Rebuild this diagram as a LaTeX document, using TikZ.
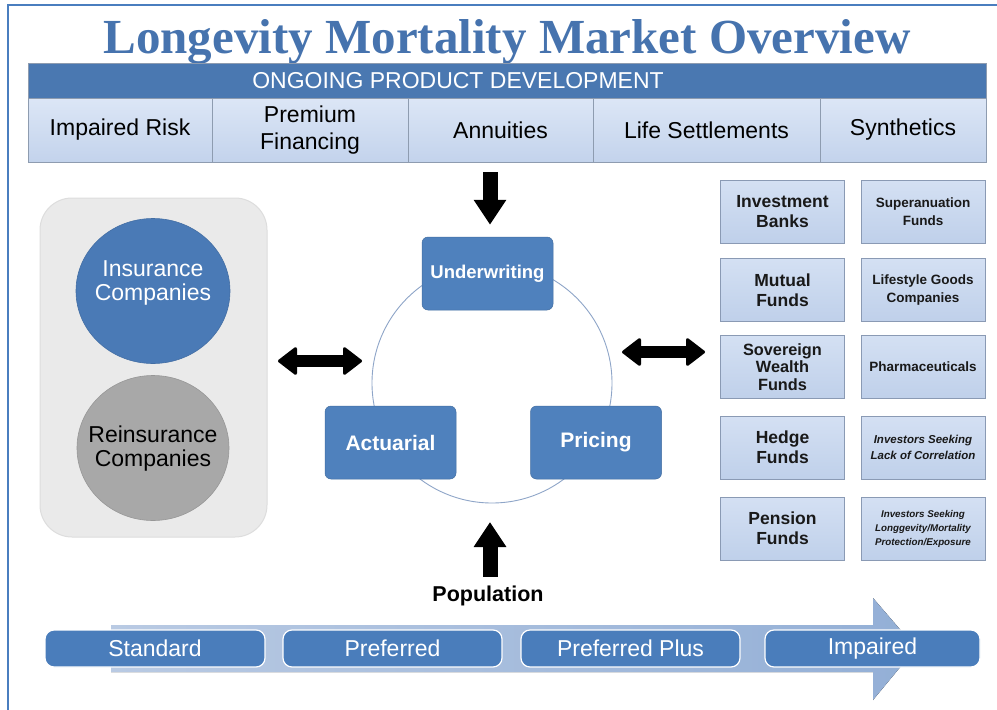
\documentclass[tikz,border=0pt]{standalone}
\usepackage{fontspec}
\setmainfont{Liberation Sans}
\newfontfamily\titlefont{Liberation Serif}
\usetikzlibrary{arrows.meta,shapes.geometric}
\newcommand\setfs[2]{\fontsize{#1}{#2}\selectfont}
\definecolor{frameblue}{HTML}{4A7EBF}
\definecolor{titleblue}{HTML}{4673AE}
\definecolor{bandblue}{HTML}{4A78B1}
\definecolor{celltop}{HTML}{DCE6F6}
\definecolor{cellbot}{HTML}{C3D3EC}
\definecolor{cellline}{HTML}{8E9CB0}
\definecolor{boxblue}{HTML}{4F81BD}
\definecolor{panelgray}{HTML}{EAEAEA}
\definecolor{panelline}{HTML}{DDDDDD}
\definecolor{insblue}{HTML}{4A7AB6}
\definecolor{reingray}{HTML}{A8A8A8}
\definecolor{shaftblue}{HTML}{93AFD6}
\definecolor{shaftlight}{HTML}{B9CAE3}
\definecolor{cycleline}{HTML}{8EA5C8}
\definecolor{rtop}{HTML}{D4E0F3}
\definecolor{rbot}{HTML}{BFD0EA}
\definecolor{rline}{HTML}{8A9AB4}
\definecolor{stepblue}{HTML}{4A7DBB}
\begin{document}
\begin{tikzpicture}[x=1pt,y=-1pt,
  every node/.style={inner sep=0pt},
  cell/.style={draw=cellline, line width=0.8pt, top color=celltop, bottom color=cellbot,
    minimum height=64pt, align=center, font=\setfs{23}{27}, text=black},
  cyclebox/.style={fill=boxblue, draw=boxblue!85!black, line width=0.5pt, rounded corners=6pt,
    minimum width=131pt, minimum height=73pt, text=white, font=\bfseries\setfs{21}{25}},
  rbox/.style={draw=rline, line width=0.8pt, top color=rtop, bottom color=rbot,
    minimum width=124pt, minimum height=63pt, align=center, text=black!90},
  lcol/.style={rbox, font=\bfseries\setfs{17.5}{20}},
  rcol/.style={rbox, font=\bfseries\setfs{13.5}{18}},
  stepbox/.style={fill=stepblue, draw=white, line width=1.2pt, rounded corners=9pt,
    minimum height=37pt, text=white, font=\setfs{23}{27}},
  dbl/.style={line width=12pt,
    {Triangle[length=20pt,width=30pt,round,line width=3pt]}-{Triangle[length=20pt,width=30pt,round,line width=3pt]}},
  blk/.style={line width=15pt, -{Triangle[length=25pt,width=31pt]}}
]
\useasboundingbox (0,0) rectangle (997,710);
\fill[white] (0,0) rectangle (997,710);

% frame
\coordinate (fr1) at (8,710);
\coordinate (fr2) at (8,5);
\coordinate (fr3) at (997,5);
\draw[frameblue, line width=2.5pt] (fr1) -- (fr2) -- (fr3);

% title
\node[font=\titlefont\bfseries\setfs{49}{56}, text=titleblue, anchor=base] (title) at (507,53)
  {Longevity Mortality Market Overview};

% header band
\node[fill=bandblue, draw=cellline, line width=0.6pt, minimum width=958pt, minimum height=35pt] (band) at (507,80.5) {};
\node[text=white, font=\setfs{23}{27}] (bandtxt) at (458,81) {ONGOING PRODUCT DEVELOPMENT};

% product cells
\node[cell, minimum width=184pt] (c1) at (120,130) {Impaired Risk};
\node[cell, minimum width=196pt] (c2) at (310,130) {Premium\\Financing};
\node[cell, minimum width=185pt] (c3) at (500.5,130) {Annuities};
\node[cell, minimum width=227pt] (c4) at (706.5,130) {Life Settlements};
\node[cell, minimum width=166pt] (c5) at (903,130) {Synthetics};

% left panel
\node[fill=panelgray, draw=panelline, line width=1pt, rounded corners=32pt,
  minimum width=227pt, minimum height=339pt] (panel) at (153.5,367.5) {};
\node[ellipse, fill=insblue, draw=insblue!90!black, line width=0.6pt,
  minimum width=154pt, minimum height=145pt] (ins) at (153,291) {};
\node[ellipse, fill=reingray, draw=reingray!90!black, line width=0.6pt,
  minimum width=152pt, minimum height=145pt] (rein) at (153,448) {};
\node[align=center, text=white, font=\setfs{23}{24}] (instxt) at (153,283) {Insurance\\Companies};
\node[align=center, text=black, font=\setfs{23}{24}] (reintxt) at (153,449) {Reinsurance\\Companies};

% cycle
\draw[cycleline, line width=0.9pt] (492,383) circle (120);
\node[cyclebox, font=\bfseries\setfs{18.5}{22}] (uw) at (487.5,273.5) {Underwriting};
\node[cyclebox] (act) at (390.5,442.5) {Actuarial};
\node[cyclebox] (pri) at (596,442.5) {Pricing};

% vertical arrows
\coordinate (dtop) at (490,172);
\draw[blk] (dtop) -- ([yshift=12pt]uw.north -| dtop);
\node[font=\bfseries\setfs{21.5}{24}, text=black] (pop) at (488,596) {Population};
\coordinate (utip) at (490,522);
\draw[blk] ([yshift=9pt]pop.north -| utip) -- (utip);

% double arrows
\coordinate (la) at (278,361);
\coordinate (lb) at (362,361);
\draw[dbl] (la) -- (lb);
\coordinate (ra) at (622,352);
\coordinate (rb) at (705,352);
\draw[dbl] (ra) -- (rb);

% right grid
\node[lcol] (r11) at (782.5,212) {Investment\\Banks};
\node[rcol] (r12) at (923,212) {Superanuation\\Funds};
\node[lcol] (r21) at (782.5,290) {Mutual\\Funds};
\node[rcol] (r22) at (923,290) {Lifestyle Goods\\Companies};
\node[lcol, font=\bfseries\setfs{16.3}{17.5}] (r31) at (782.5,367) {Sovereign\\Wealth\\Funds};
\node[rcol] (r32) at (923,367) {Pharmaceuticals};
\node[lcol] (r41) at (782.5,447.5) {Hedge\\Funds};
\node[rcol, font=\bfseries\itshape\setfs{11.5}{16}] (r42) at (923,447.5) {Investors Seeking\\Lack of Correlation};
\node[lcol] (r51) at (782.5,528.5) {Pension\\Funds};
\node[rcol, font=\bfseries\itshape\setfs{9.8}{14}] (r52) at (923,528.5) {Investors Seeking\\Longgevity/Mortality\\Protection/Exposure};

% bottom progression arrow
\fill[left color=shaftlight, right color=shaftblue]
  (111,625) -- (873,625) -- (873,598) -- (916,648) -- (873,700) -- (873,672) -- (111,672) -- cycle;
\node[stepbox, minimum width=220pt] (s1) at (155,648.5) {Standard};
\node[stepbox, minimum width=219pt] (s2) at (392.5,648.5) {Preferred};
\node[stepbox, minimum width=219pt] (s3) at (630.5,648.5) {Preferred Plus};
\node[stepbox, minimum width=215pt] (s4) at (872.5,648.5) {Impaired};
\end{tikzpicture}
\end{document}
